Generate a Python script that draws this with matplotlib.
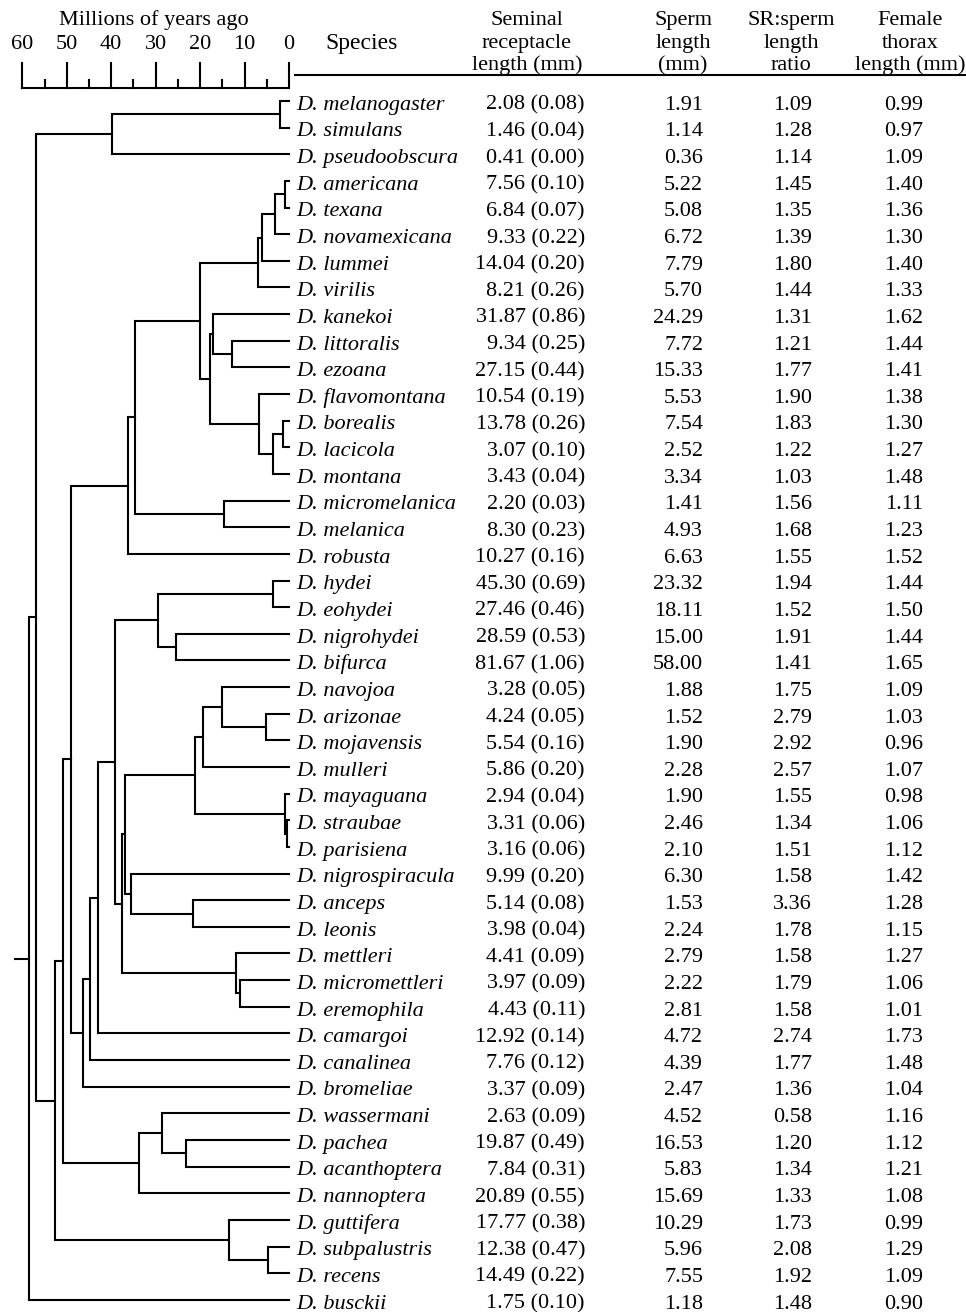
import matplotlib
matplotlib.use("Agg")
import matplotlib.pyplot as plt

# ---------------- data ----------------
species = ["melanogaster", "simulans", "pseudoobscura", "americana", "texana",
           "novamexicana", "lummei", "virilis", "kanekoi", "littoralis", "ezoana",
           "flavomontana", "borealis", "lacicola", "montana", "micromelanica",
           "melanica", "robusta", "hydei", "eohydei", "nigrohydei", "bifurca",
           "navojoa", "arizonae", "mojavensis", "mulleri", "mayaguana", "straubae",
           "parisiena", "nigrospiracula", "anceps", "leonis", "mettleri",
           "micromettleri", "eremophila", "camargoi", "canalinea", "bromeliae",
           "wassermani", "pachea", "acanthoptera", "nannoptera", "guttifera",
           "subpalustris", "recens", "busckii"]
sr_length = [2.08, 1.46, 0.41, 7.56, 6.84, 9.33, 14.04, 8.21, 31.87, 9.34, 27.15,
             10.54, 13.78, 3.07, 3.43, 2.20, 8.30, 10.27, 45.30, 27.46, 28.59, 81.67,
             3.28, 4.24, 5.54, 5.86, 2.94, 3.31, 3.16, 9.99, 5.14, 3.98, 4.41,
             3.97, 4.43, 12.92, 7.76, 3.37, 2.63, 19.87, 7.84, 20.89, 17.77,
             12.38, 14.49, 1.75]
sr_se = [0.08, 0.04, 0.00, 0.10, 0.07, 0.22, 0.20, 0.26, 0.86, 0.25, 0.44,
         0.19, 0.26, 0.10, 0.04, 0.03, 0.23, 0.16, 0.69, 0.46, 0.53, 1.06,
         0.05, 0.05, 0.16, 0.20, 0.04, 0.06, 0.06, 0.20, 0.08, 0.04, 0.09,
         0.09, 0.11, 0.14, 0.12, 0.09, 0.09, 0.49, 0.31, 0.55, 0.38,
         0.47, 0.22, 0.10]
sperm_length = [1.91, 1.14, 0.36, 5.22, 5.08, 6.72, 7.79, 5.70, 24.29, 7.72, 15.33,
                5.53, 7.54, 2.52, 3.34, 1.41, 4.93, 6.63, 23.32, 18.11, 15.00, 58.00,
                1.88, 1.52, 1.90, 2.28, 1.90, 2.46, 2.10, 6.30, 1.53, 2.24, 2.79,
                2.22, 2.81, 4.72, 4.39, 2.47, 4.52, 16.53, 5.83, 15.69, 10.29,
                5.96, 7.55, 1.18]
sr_sperm_ratio = [1.09, 1.28, 1.14, 1.45, 1.35, 1.39, 1.80, 1.44, 1.31, 1.21, 1.77,
                  1.90, 1.83, 1.22, 1.03, 1.56, 1.68, 1.55, 1.94, 1.52, 1.91, 1.41,
                  1.75, 2.79, 2.92, 2.57, 1.55, 1.34, 1.51, 1.58, 3.36, 1.78, 1.58,
                  1.79, 1.58, 2.74, 1.77, 1.36, 0.58, 1.20, 1.34, 1.33, 1.73,
                  2.08, 1.92, 1.48]
thorax_length = [0.99, 0.97, 1.09, 1.40, 1.36, 1.30, 1.40, 1.33, 1.62, 1.44, 1.41,
                 1.38, 1.30, 1.27, 1.48, 1.11, 1.23, 1.52, 1.44, 1.50, 1.44, 1.65,
                 1.09, 1.03, 0.96, 1.07, 0.98, 1.06, 1.12, 1.42, 1.28, 1.15, 1.27,
                 1.06, 1.01, 1.73, 1.48, 1.04, 1.16, 1.12, 1.21, 1.08, 0.99,
                 1.29, 1.09, 0.90]

# tree: [node age (Myr ago), child, child]; integer = species row
tree = [58.5,
        [56.9,
         [39.8, [2.0, 0, 1], 2],
         [52.6,
          [50.8,
           [49.0,
            [36.2,
             [34.6,
              [20.0,
               [7.0, [6.1, [3.15, [0.9, 3, 4], 5], 6], 7],
               [17.8, [17.1, 8, [12.8, 9, 10]],
                [6.7, 11, [3.6, [1.35, 12, 13], 14]]]],
              [14.6, 15, 16]],
             17],
            [46.3,
             [44.8,
              [43.0,
               [39.1,
                [29.5, [3.6, 18, 19], [25.4, 20, 21]],
                [37.6,
                 [36.9,
                  [21.1,
                   [19.3, [15.1, 22, [5.2, 23, 24]], 25],
                   [0.9, 26, [0.45, 27, 28]]],
                  [35.5, 29, [21.6, 30, 31]]],
                 [11.9, 32, [11.0, 33, 34]]]],
               35],
              36],
             37]],
           [33.7, [28.6, 38, [23.2, 39, 40]], 41]],
          [13.5, 42, [4.7, 43, 44]]]],
        45]
root_stem_age = 61.6

scale_major = [60, 50, 40, 30, 20, 10, 0]
scale_minor = [55, 45, 35, 25, 15, 5]

# ---------------- layout ----------------
W, H = 966, 1312
ROW0, STEP = 101.0, 26.64
PX_PER_MY = 4.445
TREE_RIGHT = 289.0

def row(py):
    return (py - ROW0) / STEP

plt.rcParams['font.family'] = ['Liberation Serif', 'DejaVu Serif']
FS = 16
LW = 1.5

fig = plt.figure(figsize=(W / 100, H / 100), dpi=100)
fig.patch.set_facecolor('white')

ax_t = fig.add_axes([0, 0, TREE_RIGHT / W, 1])
ax_t.set_xlim(TREE_RIGHT / PX_PER_MY, 0)
ax_t.set_ylim(row(H), row(0))
ax_t.axis('off')

ax = fig.add_axes([0, 0, 1, 1])
ax.set_xlim(0, W)
ax.set_ylim(row(H), row(0))
ax.axis('off')
ax.patch.set_alpha(0)

kw = dict(color='black', lw=LW, solid_joinstyle='miter', solid_capstyle='projecting',
          clip_on=False)

def draw(node):
    if isinstance(node, int):
        return float(node), 0.0
    age, a, b = node
    ya, aa = draw(a)
    yb, ab = draw(b)
    ax_t.plot([aa, age, age, ab], [ya, ya, yb, yb], **kw)
    return (ya + yb) / 2.0, age

yroot, aroot = draw(tree)
ax_t.plot([root_stem_age, aroot], [yroot, yroot], **kw)

# time scale
yb_scale = row(88)
ax_t.plot([max(scale_major), min(scale_major)], [yb_scale, yb_scale], **kw)
for t in scale_major:
    ax_t.plot([t, t], [yb_scale, row(63)], **kw)
    ax_t.text(t, row(49), str(t), ha='center', va='baseline', fontsize=FS)
for t in scale_minor:
    ax_t.plot([t, t], [yb_scale, row(80)], **kw)
ax_t.text(30.5, row(25), "Millions of years ago", ha='center', va='baseline',
          fontsize=FS)

# header
ax.text(362, row(49), "Species", ha='center', va='baseline', fontsize=FS + 1)
headers = [(527, ["Seminal", "receptacle", "length (mm)"]),
           (683, ["Sperm", "length", "(mm)"]),
           (791, ["SR:sperm", "length", "ratio"]),
           (910, ["Female", "thorax", "length (mm)"])]
for xc, lines in headers:
    for ln, yb in zip(lines, [25, 48, 70]):
        ax.text(xc, row(yb), ln, ha='center', va='baseline', fontsize=FS)
ax.plot([295, W], [row(75), row(75)], color='black', lw=LW, clip_on=False)

# rows
OFF = 0.33
for i, sp in enumerate(species):
    y = i + OFF
    ax.text(296, y, "D. " + sp, ha='left', va='baseline', fontsize=FS,
            style='italic')
    ax.text(585, y, f"{sr_length[i]:.2f} ({sr_se[i]:.2f})", ha='right',
            va='baseline', fontsize=FS)
    ax.text(703, y, f"{sperm_length[i]:.2f}", ha='right', va='baseline', fontsize=FS)
    ax.text(812, y, f"{sr_sperm_ratio[i]:.2f}", ha='right', va='baseline', fontsize=FS)
    ax.text(923, y, f"{thorax_length[i]:.2f}", ha='right', va='baseline', fontsize=FS)

fig.savefig("out.png", dpi=100, facecolor='white')
